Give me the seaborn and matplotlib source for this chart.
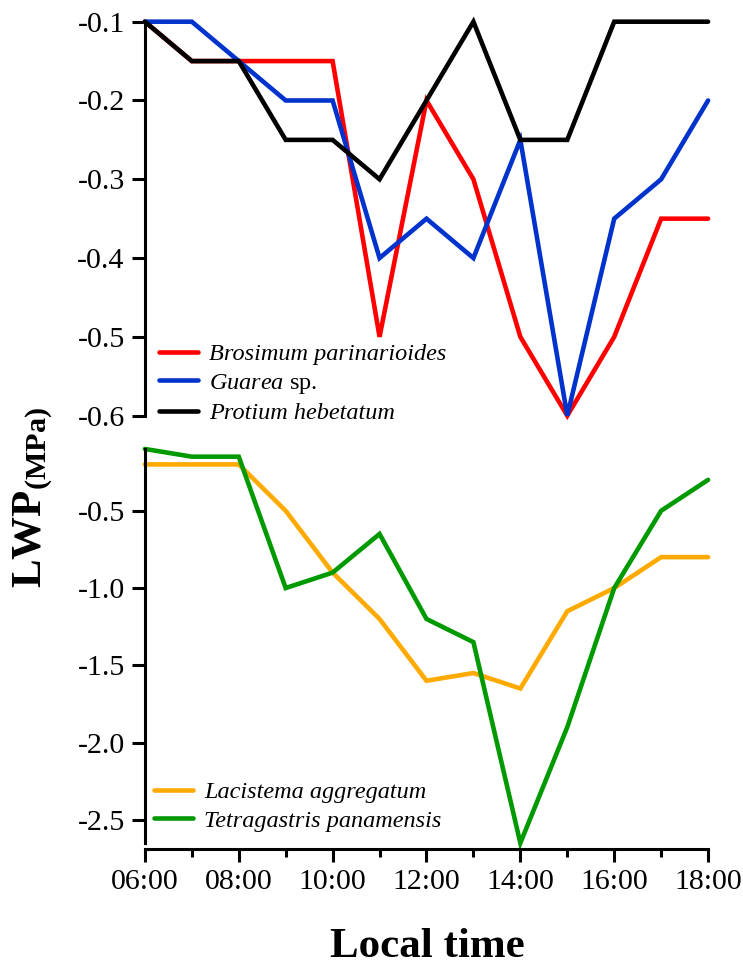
import matplotlib
matplotlib.use("Agg")
import matplotlib.pyplot as plt
import numpy as np
import pandas as pd
import seaborn as sns
from matplotlib.ticker import FixedLocator, FormatStrFormatter

# Sampling hours and axis labels
hours = list(range(6, 19))
major_hours = [6, 8, 10, 12, 14, 16, 18]
minor_hours = [7, 9, 11, 13, 15, 17]
hour_labels = ["06:00", "08:00", "10:00", "12:00", "14:00", "16:00", "18:00"]

# Leaf water potential (MPa), upper panel species
brosimum = [-0.1, -0.15, -0.15, -0.15, -0.15, -0.5, -0.2, -0.3, -0.5, -0.6, -0.5, -0.35, -0.35]
guarea = [-0.1, -0.1, -0.15, -0.2, -0.2, -0.4, -0.35, -0.4, -0.25, -0.6, -0.35, -0.3, -0.2]
protium = [-0.1, -0.15, -0.15, -0.25, -0.25, -0.3, -0.2, -0.1, -0.25, -0.25, -0.1, -0.1, -0.1]

# Lower panel species
lacistema = [-0.2, -0.2, -0.2, -0.5, -0.9, -1.2, -1.6, -1.55, -1.65, -1.15, -1.0, -0.8, -0.8]
tetragastris = [-0.1, -0.15, -0.15, -1.0, -0.9, -0.65, -1.2, -1.35, -2.65, -1.9, -1.0, -0.5, -0.3]

top_names = ["Brosimum parinarioides", "Guarea sp.", "Protium hebetatum"]
bottom_names = ["Lacistema aggregatum", "Tetragastris panamensis"]
top_colors = ["#FF0000", "#0033CC", "#000000"]
bottom_colors = ["#FFAA00", "#009A00"]

top_ticks = [-0.1, -0.2, -0.3, -0.4, -0.5, -0.6]
bottom_ticks = [-0.5, -1.0, -1.5, -2.0, -2.5]


def long_frame(names, series):
    rows = []
    for name, vals in zip(names, series):
        for h, v in zip(hours, vals):
            rows.append({"hour": h, "lwp": v, "species": name})
    return pd.DataFrame(rows)


sns.set_style("ticks")
plt.rcParams["font.family"] = ["Liberation Serif", "DejaVu Serif"]
plt.rcParams["mathtext.fontset"] = "custom"
plt.rcParams["mathtext.rm"] = "Liberation Serif"
plt.rcParams["mathtext.it"] = "Liberation Serif:italic"
plt.rcParams["mathtext.bf"] = "Liberation Serif:bold"
plt.rcParams["axes.unicode_minus"] = False
plt.rcParams["text.color"] = "black"
plt.rcParams["axes.edgecolor"] = "black"
plt.rcParams["xtick.color"] = "black"
plt.rcParams["ytick.color"] = "black"

LW = 3.3
SPINE_W = 2.2
TICK_FS = 21.5
LEG_FS = 17.5

fig = plt.figure(figsize=(7.43, 9.68), dpi=100)
ax1 = fig.add_axes([0.195, 0.5706, 0.758, 0.4070])
ax2 = fig.add_axes([0.195, 0.1291, 0.758, 0.4071])

top_df = long_frame(top_names, [brosimum, guarea, protium])
bot_df = long_frame(bottom_names, [lacistema, tetragastris])

sns.lineplot(data=top_df, x="hour", y="lwp", hue="species", hue_order=top_names,
             palette=dict(zip(top_names, top_colors)), linewidth=LW,
             errorbar=None, legend=False, ax=ax1)
sns.lineplot(data=bot_df, x="hour", y="lwp", hue="species", hue_order=bottom_names,
             palette=dict(zip(bottom_names, bottom_colors)), linewidth=LW,
             errorbar=None, legend=False, ax=ax2)

for ax in (ax1, ax2):
    for ln in ax.get_lines():
        ln.set_clip_on(False)
        ln.set_solid_joinstyle("miter")
    ax.set_xlim(6, 18)
    ax.set_xlabel("")
    ax.set_ylabel("")
    ax.spines["top"].set_visible(False)
    ax.spines["right"].set_visible(False)
    ax.spines["left"].set_linewidth(SPINE_W)
    ax.spines["bottom"].set_linewidth(SPINE_W)
    ax.tick_params(axis="both", which="major", direction="out", length=9.5,
                   width=SPINE_W, labelsize=TICK_FS, pad=5, color="black",
                   labelcolor="black")
    ax.tick_params(axis="both", which="minor", direction="out", length=6,
                   width=SPINE_W, color="black")

# Upper panel: no x axis
ax1.set_ylim(-0.6, -0.1)
ax1.yaxis.set_major_locator(FixedLocator(top_ticks))
ax1.yaxis.set_major_formatter(FormatStrFormatter("%.1f"))
ax1.spines["bottom"].set_visible(False)
ax1.tick_params(axis="x", which="both", bottom=False, labelbottom=False)

# Lower panel with the time axis
ax2.set_ylim(-2.65, -0.1)
ax2.yaxis.set_major_locator(FixedLocator(bottom_ticks))
ax2.yaxis.set_major_formatter(FormatStrFormatter("%.1f"))
ax2.spines["bottom"].set_position(("outward", 4.5))
ax2.xaxis.set_major_locator(FixedLocator(major_hours))
ax2.xaxis.set_minor_locator(FixedLocator(minor_hours))
ax2.set_xticklabels(hour_labels)

# Legends
leg1 = ax1.legend(ax1.get_lines(), ["Brosimum parinarioides", r"$\mathit{Guarea}$ sp.",
                                    "Protium hebetatum"],
                  loc="center left", bbox_to_anchor=(0.2144, 0.6035),
                  bbox_transform=fig.transFigure, frameon=False, fontsize=LEG_FS,
                  handlelength=1.6, handletextpad=0.45, labelspacing=0.26,
                  borderpad=0, borderaxespad=0)
for i, t in enumerate(leg1.get_texts()):
    if i != 1:
        t.set_fontstyle("italic")

leg2 = ax2.legend(ax2.get_lines(), bottom_names,
                  loc="center left", bbox_to_anchor=(0.2077, 0.1668),
                  bbox_transform=fig.transFigure, frameon=False, fontsize=LEG_FS,
                  handlelength=1.6, handletextpad=0.45, labelspacing=0.26,
                  borderpad=0, borderaxespad=0)
for t in leg2.get_texts():
    t.set_fontstyle("italic")

fig.text(0.045, 0.486, r"$\mathbf{LWP}_{\mathbf{(MPa)}}$", rotation=90,
         fontsize=31, ha="center", va="center")
fig.text(0.575, 0.011, "Local time", fontsize=31, fontweight="bold",
         ha="center", va="baseline")

fig.savefig("out.png", dpi=100)
